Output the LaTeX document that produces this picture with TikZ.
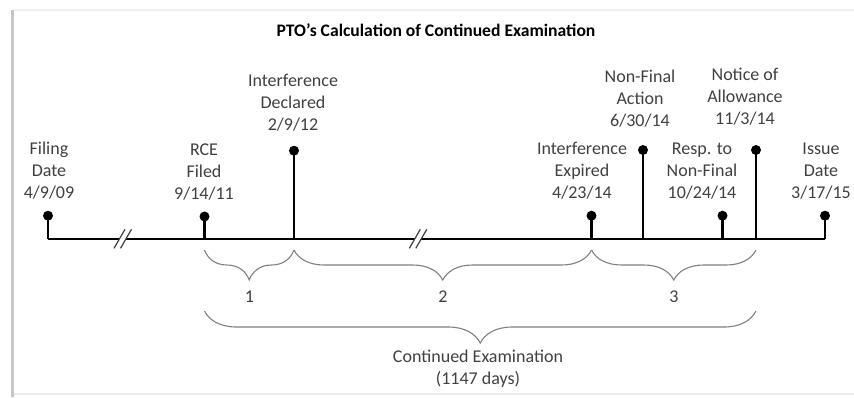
\documentclass[tikz,border=0pt]{standalone}
\usepackage{fontspec}
\setmainfont{Carlito}
\usetikzlibrary{decorations.pathreplacing}
\definecolor{txtgray}{HTML}{404040}
\definecolor{bracegray}{HTML}{808080}
\begin{document}
\begin{tikzpicture}[x=1pt,y=-1pt,
  lbl/.style={font=\fontsize{18}{22}\selectfont, text=txtgray, align=center, inner sep=0pt},
  dotn/.style={circle, fill=black, minimum size=10pt, inner sep=0pt},
  stemline/.style={line width=2.6pt},
  axisline/.style={line width=2.8pt},
  slash/.style={line width=1.2pt, draw=txtgray},
  brc/.style={decorate, decoration={brace, mirror, amplitude=#1, aspect=0.5}, draw=bracegray, line width=1.1pt},
  brc/.default=30pt]
\useasboundingbox (0,0) rectangle (854,397);
% frame
\draw[gray!12, line width=2pt] (13,10) -- (854,10);
\draw[gray!15, line width=1.5pt] (13,394) -- (854,394);
\draw[gray!45, line width=3pt] (12.5,10) -- (12.5,397);
% title
\node[font=\bfseries\fontsize{17.6}{20}\selectfont] (title) at (436,30) {PTO’s Calculation of Continued Examination};
% base points on the axis
\coordinate (b1) at (48,239);
\coordinate (b2) at (204.5,239);
\coordinate (b3) at (294,239);
\coordinate (b4) at (591.5,239);
\coordinate (b5) at (643,239);
\coordinate (b6) at (722.5,239);
\coordinate (b7) at (756,239);
\coordinate (b8) at (825,239);
\draw[axisline] (b1) -- (b8);
% dots and stems
\node[dotn] (d1) at (48,215.7) {};
\node[dotn] (d2) at (204.5,216.5) {};
\node[dotn] (d3) at (294,150.7) {};
\node[dotn] (d4) at (591.5,215.7) {};
\node[dotn] (d5) at (643,150) {};
\node[dotn] (d6) at (722.5,215.7) {};
\node[dotn] (d7) at (756,150) {};
\node[dotn] (d8) at (825,215.7) {};
\foreach \i in {1,...,8} {\draw[stemline] (d\i.center) -- (b\i);}
% break marks
\coordinate (k1a) at (114,248.3); \coordinate (k1b) at (125,229.3);
\coordinate (k1c) at (120.5,248.3); \coordinate (k1d) at (131.5,229.3);
\fill[white] (k1a) -- (k1b) -- (k1d) -- (k1c) -- cycle;
\draw[slash] (k1a) -- (k1b);
\draw[slash] (k1c) -- (k1d);
\coordinate (k2a) at (409.3,248.3); \coordinate (k2b) at (420.3,229.3);
\coordinate (k2c) at (415.8,248.3); \coordinate (k2d) at (426.8,229.3);
\fill[white] (k2a) -- (k2b) -- (k2d) -- (k2c) -- cycle;
\draw[slash] (k2a) -- (k2b);
\draw[slash] (k2c) -- (k2d);
% labels
\node[lbl] (l1) at (49,171) {Filing\\Date\\4/9/09};
\node[lbl] (l2) at (204,172) {RCE\\Filed\\9/14/11};
\node[lbl] (l3) at (293,103) {Interference\\Declared\\2/9/12};
\node[lbl] (l4) at (582,171) {Interference\\Expired\\4/23/14};
\node[lbl] (l5) at (640,99) {Non-Final\\Action\\6/30/14};
\node[lbl] (l6) at (702,171) {Resp. to\\Non-Final\\10/24/14};
\node[lbl] (l7) at (745,97) {Notice of\\Allowance\\11/3/14};
\node[lbl] (l8) at (821,171) {Issue\\Date\\3/17/15};
% small braces
\coordinate (s1) at (204.5,250); \coordinate (s2) at (294,250);
\coordinate (s3) at (591.5,250); \coordinate (s4) at (756,250);
\draw[brc] (s1) -- (s2);
\draw[brc] (s2) -- (s3);
\draw[brc] (s3) -- (s4);
\node[lbl] (n1) at (249.5,297) {1};
\node[lbl] (n2) at (443,297) {2};
\node[lbl] (n3) at (674,297) {3};
% big brace
\coordinate (g1) at (204.5,311); \coordinate (g2) at (756,311);
\draw[brc=32pt] (g1) -- (g2);
\node[lbl] (ce) at (478,369) {Continued Examination\\(1147 days)};
\end{tikzpicture}
\end{document}
